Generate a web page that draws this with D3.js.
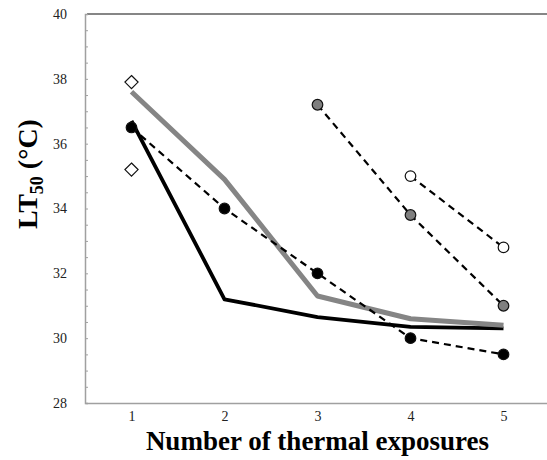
<!DOCTYPE html>
<html>
<head>
<meta charset="utf-8">
<script src="https://cdn.jsdelivr.net/npm/d3@7"></script>
<style>
  body { margin: 0; background: #fff; }
  text { font-family: "Liberation Serif", "Times New Roman", serif; }
</style>
</head>
<body>
<div id="vis"></div>
<script>
// setting constants
const FRAME_WIDTH = 547;
const FRAME_HEIGHT = 460;
const MARGINS = {left: 85, right: -3, top: 14, bottom: 57};

// data
const exposures = [1, 2, 3, 4, 5];
const grayMean = [37.6, 34.9, 31.3, 30.6, 30.4];
const blackMean = [36.7, 31.2, 30.65, 30.35, 30.3];
const blackDotX = [1, 2, 3, 4, 5];
const blackDotY = [36.5, 34.0, 32.0, 30.0, 29.5];
const grayDotX = [3, 4, 5];
const grayDotY = [37.2, 33.8, 31.0];
const openDotX = [4, 5];
const openDotY = [35.0, 32.8];
const diamondX = [1, 1];
const diamondY = [37.9, 35.2];
const yTicks = [28, 30, 32, 34, 36, 38, 40];

// frame
const FRAME = d3.select("#vis")
  .append("svg")
  .attr("width", FRAME_WIDTH)
  .attr("height", FRAME_HEIGHT);

const VIS_WIDTH = FRAME_WIDTH - MARGINS.left - MARGINS.right;
const VIS_HEIGHT = FRAME_HEIGHT - MARGINS.top - MARGINS.bottom;

// scales
const X_SCALE = d3.scaleLinear().domain([0.5, 5.5]).range([0, VIS_WIDTH]);
const Y_SCALE = d3.scaleLinear().domain([28, 40]).range([VIS_HEIGHT, 0]);

const G = FRAME.append("g")
  .attr("transform", "translate(" + MARGINS.left + "," + MARGINS.top + ")");

// top line at 40
G.append("line")
  .attr("x1", 2).attr("x2", VIS_WIDTH)
  .attr("y1", Y_SCALE(40)).attr("y2", Y_SCALE(40))
  .attr("stroke", "#5e5e5e").attr("stroke-width", 1.6);

// y axis with inward ticks every 0.5
const yAxis = G.append("g")
  .call(d3.axisLeft(Y_SCALE).tickValues(d3.range(28, 40.01, 0.5)).tickSize(-3).tickFormat(""));
yAxis.select(".domain").attr("stroke", "#a0a0a0").attr("stroke-width", 1.5);
yAxis.selectAll(".tick line").attr("stroke", "#a0a0a0").attr("stroke-width", 1);

// y labels
G.append("g")
  .call(d3.axisLeft(Y_SCALE).tickValues(yTicks).tickSize(0).tickPadding(18))
  .call(g => g.select(".domain").remove())
  .selectAll("text")
    .attr("font-size", "14px")
    .attr("fill", "#222")
    .style("font-family", "'Liberation Serif', serif");

// x axis
const xAxis = G.append("g")
  .attr("transform", "translate(0," + VIS_HEIGHT + ")")
  .call(d3.axisBottom(X_SCALE).tickValues(exposures).tickSize(0).tickPadding(8).tickFormat(d3.format("d")));
xAxis.select(".domain").attr("stroke", "#a0a0a0").attr("stroke-width", 1.5);
xAxis.selectAll("text")
  .attr("font-size", "14px")
  .attr("fill", "#222")
  .style("font-family", "'Liberation Serif', serif");

// lines
const line = d3.line()
  .x((d) => X_SCALE(d[0]))
  .y((d) => Y_SCALE(d[1]));

G.append("path")
  .datum(d3.zip(exposures, blackMean))
  .attr("d", line)
  .attr("fill", "none")
  .attr("stroke", "#000")
  .attr("stroke-width", 3.8)
  .attr("stroke-linejoin", "round");

G.append("path")
  .datum(d3.zip(exposures, grayMean))
  .attr("d", line)
  .attr("fill", "none")
  .attr("stroke", "#858585")
  .attr("stroke-width", 5)
  .attr("stroke-linejoin", "round");

const dashed = [
  {pts: d3.zip(blackDotX, blackDotY), fill: "#000"},
  {pts: d3.zip(grayDotX, grayDotY), fill: "#7f7f7f"},
  {pts: d3.zip(openDotX, openDotY), fill: "#fff"}
];

dashed.forEach((s) => {
  G.append("path")
    .datum(s.pts)
    .attr("d", line)
    .attr("fill", "none")
    .attr("stroke", "#000")
    .attr("stroke-width", 2.2)
    .attr("stroke-dasharray", "7,5");
});

dashed.forEach((s) => {
  G.selectAll(null)
    .data(s.pts)
    .enter()
    .append("circle")
      .attr("cx", (d) => X_SCALE(d[0]))
      .attr("cy", (d) => Y_SCALE(d[1]))
      .attr("r", 5.3)
      .attr("fill", s.fill)
      .attr("stroke", "#111")
      .attr("stroke-width", 1.2);
});

// diamonds
G.selectAll(null)
  .data(d3.zip(diamondX, diamondY))
  .enter()
  .append("path")
    .attr("d", d3.symbol(d3.symbolDiamond2, 110))
    .attr("transform", (d) => "translate(" + X_SCALE(d[0]) + "," + Y_SCALE(d[1]) + ")")
    .attr("fill", "#fff")
    .attr("stroke", "#111")
    .attr("stroke-width", 1.2);

// axis titles
FRAME.append("text")
  .attr("x", MARGINS.left + X_SCALE(3))
  .attr("y", 450)
  .attr("text-anchor", "middle")
  .attr("font-size", "27px")
  .attr("font-weight", "bold")
  .text("Number of thermal exposures");

const yTitle = FRAME.append("text")
  .attr("transform", "translate(37,174) rotate(-90)")
  .attr("text-anchor", "middle")
  .attr("font-size", "28px")
  .attr("font-weight", "bold");
yTitle.append("tspan").text("LT");
yTitle.append("tspan").attr("font-size", "18px").attr("dy", 6).text("50");
yTitle.append("tspan").attr("dy", -6).text(" (°C)");
</script>
</body>
</html>
